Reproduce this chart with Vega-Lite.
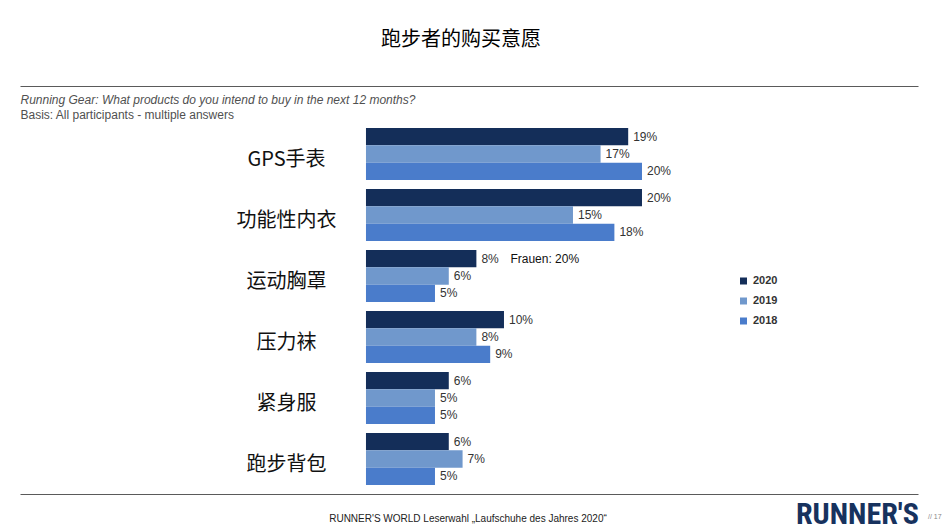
{
  "$schema": "https://vega.github.io/schema/vega-lite/v6.json",
  "autosize": "none",
  "padding": {"left": 20, "top": 123.5, "right": 27, "bottom": 41.5},
  "width": 898,
  "height": 366,
  "title": {
    "text": "跑步者的购买意愿",
    "font": "Noto Sans CJK SC",
    "fontSize": 20,
    "fontWeight": "normal",
    "color": "#000000",
    "anchor": "middle",
    "frame": "group",
    "dx": -8,
    "offset": 36
  },
  "data": {
    "values": [
      {"product": "GPS手表", "year": "2020", "share": 0.19},
      {"product": "GPS手表", "year": "2019", "share": 0.17},
      {"product": "GPS手表", "year": "2018", "share": 0.20},
      {"product": "功能性内衣", "year": "2020", "share": 0.20},
      {"product": "功能性内衣", "year": "2019", "share": 0.15},
      {"product": "功能性内衣", "year": "2018", "share": 0.18},
      {"product": "运动胸罩", "year": "2020", "share": 0.08, "note": "Frauen: 20%"},
      {"product": "运动胸罩", "year": "2019", "share": 0.06},
      {"product": "运动胸罩", "year": "2018", "share": 0.05},
      {"product": "压力袜", "year": "2020", "share": 0.10},
      {"product": "压力袜", "year": "2019", "share": 0.08},
      {"product": "压力袜", "year": "2018", "share": 0.09},
      {"product": "紧身服", "year": "2020", "share": 0.06},
      {"product": "紧身服", "year": "2019", "share": 0.05},
      {"product": "紧身服", "year": "2018", "share": 0.05},
      {"product": "跑步背包", "year": "2020", "share": 0.06},
      {"product": "跑步背包", "year": "2019", "share": 0.07},
      {"product": "跑步背包", "year": "2018", "share": 0.05}
    ]
  },
  "layer": [
    {
      "encoding": {
        "y": {
          "field": "product",
          "type": "nominal",
          "sort": ["GPS手表", "功能性内衣", "运动胸罩", "压力袜", "紧身服", "跑步背包"],
          "scale": {"paddingInner": 0.1475, "paddingOuter": 0.074},
          "axis": {
            "orient": "left",
            "domain": false,
            "ticks": false,
            "tickSize": 0,
            "grid": false,
            "labelFont": "Noto Sans CJK SC",
            "labelFontSize": 20,
            "labelColor": "#111111",
            "labelAlign": "center",
            "labelBaseline": "middle",
            "labelPadding": -266,
            "labelOffset": 6,
            "labelLimit": 300,
            "title": "Basis: All participants - multiple answers",
            "titleAngle": 0,
            "titleAlign": "left",
            "titleBaseline": "middle",
            "titleX": 0,
            "titleY": -9.5,
            "titleFont": "Liberation Sans",
            "titleFontSize": 12,
            "titleFontWeight": "normal",
            "titleColor": "#505050"
          }
        },
        "yOffset": {
          "field": "year",
          "type": "nominal",
          "sort": ["2020", "2019", "2018"],
          "scale": {"paddingInner": 0, "paddingOuter": 0}
        },
        "x": {
          "field": "share",
          "type": "quantitative",
          "scale": {"domain": [-0.2507, 0.40], "nice": false, "zero": false},
          "axis": {
            "orient": "top",
            "offset": 37.5,
            "domain": true,
            "domainColor": "#5a5a5a",
            "domainWidth": 1.2,
            "ticks": false,
            "labels": false,
            "grid": false,
            "title": "Running Gear: What products do you intend to buy in the next 12 months?",
            "titleAnchor": "start",
            "titleAlign": "left",
            "titleBaseline": "middle",
            "titleX": 0,
            "titleY": 13,
            "titleFont": "Liberation Sans",
            "titleFontSize": 12,
            "titleFontStyle": "italic",
            "titleFontWeight": "normal",
            "titleColor": "#505050"
          }
        }
      },
      "layer": [
        {
          "mark": {"type": "bar"},
          "encoding": {
            "x2": {"datum": 0},
            "color": {
              "field": "year",
              "type": "nominal",
              "scale": {
                "domain": ["2020", "2019", "2018"],
                "range": ["#142e59", "#7098cc", "#4a7ccb"]
              },
              "legend": {
                "orient": "none",
                "legendX": 718,
                "legendY": 152,
                "title": null,
                "padding": 0,
                "symbolType": "square",
                "symbolSize": 49,
                "symbolStrokeWidth": 0,
                "labelFont": "Liberation Sans",
                "labelFontSize": 11,
                "labelFontWeight": "bold",
                "labelColor": "#333333",
                "labelOffset": 4,
                "rowPadding": 8
              }
            }
          }
        },
        {
          "mark": {
            "type": "text",
            "align": "left",
            "baseline": "middle",
            "dx": 5,
            "font": "Liberation Sans",
            "fontSize": 12,
            "color": "#333333"
          },
          "encoding": {
            "text": {"field": "share", "type": "quantitative", "format": ".0%"}
          }
        },
        {
          "transform": [{"filter": "datum.note"}],
          "mark": {
            "type": "text",
            "align": "left",
            "baseline": "middle",
            "dx": 34,
            "font": "Liberation Sans",
            "fontSize": 12,
            "color": "#111111"
          },
          "encoding": {
            "text": {"field": "note", "type": "nominal"}
          }
        }
      ]
    },
    {
      "data": {"values": [{"page": "// 17", "pos": 0}]},
      "mark": {"type": "point", "opacity": 0},
      "encoding": {
        "x": {
          "field": "pos",
          "type": "quantitative",
          "scale": {"domain": [0, 1]},
          "axis": {
            "orient": "bottom",
            "offset": 4.5,
            "domain": true,
            "domainColor": "#5a5a5a",
            "domainWidth": 1.2,
            "ticks": false,
            "labels": false,
            "grid": false,
            "title": "RUNNER'S WORLD Leserwahl „Laufschuhe des Jahres 2020“",
            "titleAlign": "center",
            "titleBaseline": "middle",
            "titleX": 447.5,
            "titleY": 24,
            "titleFont": "Liberation Sans",
            "titleFontSize": 10,
            "titleFontWeight": "normal",
            "titleColor": "#222222"
          }
        },
        "shape": {
          "field": "page",
          "type": "nominal",
          "legend": {
            "orient": "none",
            "legendX": 776,
            "legendY": 386,
            "padding": 0,
            "title": "RUNNER'S",
            "titleOrient": "left",
            "titleFont": "Liberation Sans Narrow, Roboto Condensed, Liberation Sans",
            "titleFontSize": 30,
            "titleFontWeight": "bold",
            "titleColor": "#17325e",
            "titleLimit": 400,
            "titlePadding": 2,
            "symbolOpacity": 0,
            "symbolSize": 1,
            "labelFont": "Liberation Sans",
            "labelFontSize": 7,
            "labelColor": "#888888",
            "labelOffset": 0,
            "labelBaseline": "top"
          }
        }
      }
    }
  ],
  "resolve": {"scale": {"x": "independent"}, "axis": {"x": "independent"}},
  "config": {
    "view": {"stroke": null},
    "font": "Liberation Sans",
    "background": "#ffffff"
  }
}
